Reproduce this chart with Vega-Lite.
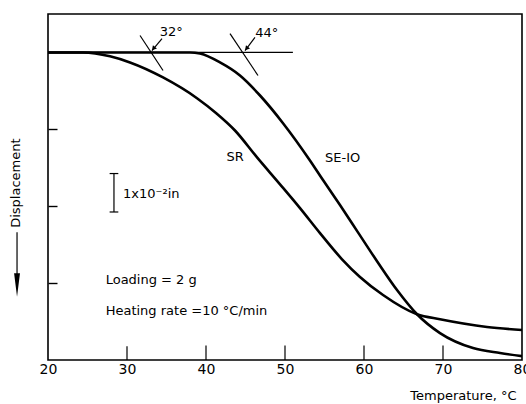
{
  "$schema": "https://vega.github.io/schema/vega-lite/v6.json",
  "width": 474,
  "height": 346,
  "autosize": "none",
  "padding": {"left": 48, "top": 14, "right": 4, "bottom": 44},
  "background": "white",
  "config": {
    "view": {"stroke": "black", "strokeWidth": 1.6},
    "font": "DejaVu Sans",
    "axis": {"grid": false, "domain": false, "tickColor": "black", "tickWidth": 1.4, "labelColor": "black", "titleColor": "black"}
  },
  "datasets": {
    "curves": [
      {"series": "SR", "t": 20, "d": 0},
      {"series": "SR", "t": 24.43, "d": 0},
      {"series": "SR", "t": 27.85, "d": 0.1},
      {"series": "SR", "t": 30.38, "d": 0.26},
      {"series": "SR", "t": 34.56, "d": 0.65},
      {"series": "SR", "t": 38.86, "d": 1.19},
      {"series": "SR", "t": 41.3, "d": 1.58},
      {"series": "SR", "t": 43.67, "d": 2.03},
      {"series": "SR", "t": 46.46, "d": 2.73},
      {"series": "SR", "t": 49.37, "d": 3.43},
      {"series": "SR", "t": 51.9, "d": 4.05},
      {"series": "SR", "t": 54.43, "d": 4.7},
      {"series": "SR", "t": 57.22, "d": 5.38},
      {"series": "SR", "t": 59.49, "d": 5.84},
      {"series": "SR", "t": 62.41, "d": 6.31},
      {"series": "SR", "t": 66.71, "d": 6.81},
      {"series": "SR", "t": 69.62, "d": 6.94},
      {"series": "SR", "t": 75.57, "d": 7.14},
      {"series": "SR", "t": 80, "d": 7.22},
      {"series": "SE-IO", "t": 20, "d": 0},
      {"series": "SE-IO", "t": 37.97, "d": 0},
      {"series": "SE-IO", "t": 39.24, "d": 0.03},
      {"series": "SE-IO", "t": 41.77, "d": 0.26},
      {"series": "SE-IO", "t": 44.3, "d": 0.6},
      {"series": "SE-IO", "t": 46.84, "d": 1.12},
      {"series": "SE-IO", "t": 49.75, "d": 1.84},
      {"series": "SE-IO", "t": 53.16, "d": 2.81},
      {"series": "SE-IO", "t": 54.81, "d": 3.32},
      {"series": "SE-IO", "t": 56.96, "d": 3.97},
      {"series": "SE-IO", "t": 59.24, "d": 4.68},
      {"series": "SE-IO", "t": 61.65, "d": 5.43},
      {"series": "SE-IO", "t": 64.18, "d": 6.18},
      {"series": "SE-IO", "t": 66.71, "d": 6.81},
      {"series": "SE-IO", "t": 69.62, "d": 7.3},
      {"series": "SE-IO", "t": 73.8, "d": 7.69},
      {"series": "SE-IO", "t": 77.22, "d": 7.82},
      {"series": "SE-IO", "t": 80, "d": 7.9}
    ],
    "segments": [
      {"name": "baseline", "t1": 20, "d1": 0, "t2": 51, "d2": 0},
      {"name": "tangent32", "t1": 31.65, "d1": -0.44, "t2": 34.56, "d2": 0.47},
      {"name": "tangent44", "t1": 43.04, "d1": -0.49, "t2": 46.58, "d2": 0.6},
      {"name": "arrow32", "t1": 34.43, "d1": -0.36, "t2": 33.16, "d2": -0.05},
      {"name": "arrow44", "t1": 46.2, "d1": -0.39, "t2": 44.94, "d2": -0.05},
      {"name": "scalebar", "t1": 28.35, "d1": 3.15, "t2": 28.35, "d2": 4.15},
      {"name": "scalecap1", "t1": 27.8, "d1": 3.15, "t2": 28.9, "d2": 3.15},
      {"name": "scalecap2", "t1": 27.8, "d1": 4.15, "t2": 28.9, "d2": 4.15},
      {"name": "disparrow", "t1": 16.08, "d1": 4.68, "t2": 16.08, "d2": 5.9},
      {"name": "xtick30", "t1": 30, "d1": 8, "t2": 30, "d2": 7.64},
      {"name": "xtick40", "t1": 40, "d1": 8, "t2": 40, "d2": 7.62},
      {"name": "xtick50", "t1": 50, "d1": 8, "t2": 50, "d2": 7.62},
      {"name": "xtick60", "t1": 60, "d1": 8, "t2": 60, "d2": 7.62},
      {"name": "xtick70", "t1": 70, "d1": 8, "t2": 70, "d2": 7.62}
    ],
    "heads": [
      {"t": 33.35, "d": -0.1},
      {"t": 45.13, "d": -0.1}
    ],
    "disphead": [
      {"t": 16.08, "d": 6.05}
    ],
    "labels": [
      {"text": "32°", "t": 35.6, "d": -0.52},
      {"text": "44°", "t": 47.7, "d": -0.5},
      {"text": "SR", "t": 43.7, "d": 2.73},
      {"text": "SE-IO", "t": 57.3, "d": 2.75}
    ],
    "notes": [
      {"text": "Loading = 2 g", "t": 27.3, "d": 5.92},
      {"text": "Heating rate =10 °C/min", "t": 27.3, "d": 6.73},
      {"text": "1x10⁻²in", "t": 29.5, "d": 3.68}
    ],
    "ytitle": [
      {"text": "Displacement", "t": 15.9, "d": 3.4}
    ]
  },
  "layer": [
    {
      "data": {"name": "curves"},
      "mark": {"type": "line", "color": "black", "strokeWidth": 2.6, "interpolate": "monotone", "clip": true},
      "encoding": {
        "x": {"field": "t", "type": "quantitative", "scale": {"domain": [20, 80], "nice": false, "zero": false},
          "axis": {"values": [20, 30, 40, 50, 60, 70, 80], "ticks": false, "labelPadding": 2, "labelFontSize": 14, "labelFlush": false,
            "title": "Temperature, °C", "titleFontSize": 13, "titleFontWeight": "normal", "titleAlign": "right", "titleAnchor": "end", "titleX": 468, "titleY": 35, "titleBaseline": "middle"}},
        "y": {"field": "d", "type": "quantitative", "scale": {"domain": [-1, 8], "reverse": true, "nice": false, "zero": false},
          "axis": {"values": [2, 4, 6], "tickSize": -9, "labels": false, "title": null}},
        "detail": {"field": "series"}
      }
    },
    {
      "data": {"name": "segments"},
      "mark": {"type": "rule", "color": "black", "strokeWidth": 1.2},
      "encoding": {
        "x": {"field": "t1", "type": "quantitative"},
        "y": {"field": "d1", "type": "quantitative"},
        "x2": {"field": "t2"},
        "y2": {"field": "d2"}
      }
    },
    {
      "data": {"name": "heads"},
      "mark": {"type": "point", "shape": "triangle-up", "angle": 220, "filled": true, "color": "black", "size": 28, "opacity": 1},
      "encoding": {
        "x": {"field": "t", "type": "quantitative"},
        "y": {"field": "d", "type": "quantitative"}
      }
    },
    {
      "data": {"name": "disphead"},
      "mark": {"type": "point", "shape": "M -0.25 -1 L 0.25 -1 L 0 1 Z", "filled": true, "color": "black", "size": 560, "opacity": 1},
      "encoding": {
        "x": {"field": "t", "type": "quantitative"},
        "y": {"field": "d", "type": "quantitative"}
      }
    },
    {
      "data": {"name": "labels"},
      "mark": {"type": "text", "color": "black", "fontSize": 13, "align": "center", "baseline": "middle"},
      "encoding": {
        "x": {"field": "t", "type": "quantitative"},
        "y": {"field": "d", "type": "quantitative"},
        "text": {"field": "text"}
      }
    },
    {
      "data": {"name": "notes"},
      "mark": {"type": "text", "color": "black", "fontSize": 13, "align": "left", "baseline": "middle"},
      "encoding": {
        "x": {"field": "t", "type": "quantitative"},
        "y": {"field": "d", "type": "quantitative"},
        "text": {"field": "text"}
      }
    },
    {
      "data": {"name": "ytitle"},
      "mark": {"type": "text", "color": "black", "fontSize": 13, "angle": 270, "align": "center", "baseline": "middle"},
      "encoding": {
        "x": {"field": "t", "type": "quantitative"},
        "y": {"field": "d", "type": "quantitative"},
        "text": {"field": "text"}
      }
    }
  ]
}
